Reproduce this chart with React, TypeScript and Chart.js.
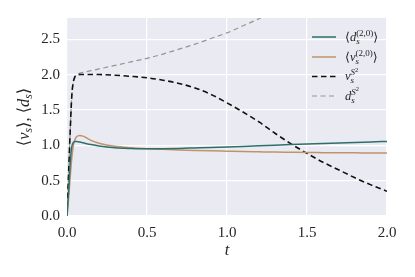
import React, { useEffect, useRef } from 'react';
import { Chart, registerables } from 'chart.js';
Chart.register(...registerables);

// time samples
const T = [0, 0.01, 0.02, 0.03, 0.04, 0.05, 0.06, 0.08, 0.1, 0.15, 0.2, 0.3, 0.4, 0.5, 0.6, 0.7, 0.8, 0.9, 1.0, 1.1, 1.2, 1.3, 1.4, 1.5, 1.6, 1.7, 1.8, 1.9, 2.0];
// <d_s^(2,0)>
const dAvg = [0, 0.35, 0.75, 0.98, 1.04, 1.055, 1.053, 1.045, 1.035, 1.01, 0.99, 0.965, 0.955, 0.95, 0.952, 0.956, 0.962, 0.968, 0.975, 0.983, 0.992, 1.001, 1.01, 1.018, 1.025, 1.033, 1.04, 1.048, 1.055];
// <v_s^(2,0)>
const vAvg = [0, 0.25, 0.55, 0.82, 1.0, 1.08, 1.12, 1.14, 1.13, 1.07, 1.03, 0.985, 0.965, 0.952, 0.943, 0.935, 0.928, 0.922, 0.917, 0.912, 0.908, 0.904, 0.901, 0.898, 0.896, 0.894, 0.893, 0.891, 0.89];
// v_s^{S^2}
const vS2 = [0, 0.6, 1.2, 1.7, 1.9, 1.97, 1.99, 2.0, 2.0, 2.0, 2.0, 1.99, 1.975, 1.955, 1.92, 1.875, 1.81, 1.72, 1.6, 1.47, 1.33, 1.17, 1.02, 0.885, 0.76, 0.65, 0.54, 0.44, 0.35];
// d_s^{S^2}
const dS2 = [0, 0.6, 1.2, 1.7, 1.9, 1.97, 2.0, 2.02, 2.03, 2.055, 2.08, 2.13, 2.18, 2.23, 2.29, 2.36, 2.43, 2.51, 2.59, 2.69, 2.79, 2.9, 3.02, 3.15, 3.28, 3.42, 3.57, 3.72, 3.88];

const xTicks = [0, 0.5, 1.0, 1.5, 2.0];
const yTicks = [0, 0.5, 1.0, 1.5, 2.0, 2.5];

const SERIF = '"Liberation Serif", "DejaVu Serif", serif';
const TXT = '#262626';

type Run = { t: string; s: number; it?: boolean; dy?: number };
type Stack = { sup: Run[]; sub: Run[] };
type Item = Run | Stack;

function fontOf(r: Run) {
  return `${r.it ? 'italic ' : ''}${r.s}px ${SERIF}`;
}

function drawItems(ctx: CanvasRenderingContext2D, items: Item[], x: number, y: number, draw: boolean): number {
  let cx = x;
  for (const it of items) {
    if ((it as Stack).sup) {
      const st = it as Stack;
      const w1 = drawItems(ctx, st.sup, cx, y, draw);
      const w2 = drawItems(ctx, st.sub, cx, y, draw);
      cx += Math.max(w1, w2);
    } else {
      const r = it as Run;
      ctx.font = fontOf(r);
      if (draw) ctx.fillText(r.t, cx, y + (r.dy || 0));
      cx += ctx.measureText(r.t).width;
    }
  }
  return cx - x;
}

const GREEN = '#2f6f6a';
const TAN = '#c0946a';
const BLACK = '#111111';
const GRAY = '#959595';
const BLACK_DASH = [5.5, 3.5];
const GRAY_DASH = [5, 3.5];

const legendItems: { color: string; dash: number[]; width: number; label: Item[] }[] = [
  {
    color: GREEN, dash: [], width: 1.5,
    label: [{ t: '⟨', s: 12.5 }, { t: 'd', s: 12.5, it: true }, { sup: [{ t: '(2,0)', s: 9, dy: -5 }], sub: [{ t: 's', s: 9, it: true, dy: 3 }] }, { t: '⟩', s: 12.5 }],
  },
  {
    color: TAN, dash: [], width: 1.5,
    label: [{ t: '⟨', s: 12.5 }, { t: 'v', s: 12.5, it: true }, { sup: [{ t: '(2,0)', s: 9, dy: -5 }], sub: [{ t: 's', s: 9, it: true, dy: 3 }] }, { t: '⟩', s: 12.5 }],
  },
  {
    color: BLACK, dash: BLACK_DASH, width: 1.6,
    label: [{ t: 'v', s: 12.5, it: true }, { sup: [{ t: 'S', s: 9, it: true, dy: -5 }, { t: '2', s: 6.5, dy: -8.5 }], sub: [{ t: 's', s: 9, it: true, dy: 3 }] }],
  },
  {
    color: GRAY, dash: GRAY_DASH, width: 1.2,
    label: [{ t: 'd', s: 12.5, it: true }, { sup: [{ t: 'S', s: 9, it: true, dy: -5 }, { t: '2', s: 6.5, dy: -8.5 }], sub: [{ t: 's', s: 9, it: true, dy: 3 }] }],
  },
];

const yTitle: Item[] = [
  { t: '⟨', s: 16.5 }, { t: 'v', s: 16.5, it: true }, { t: 's', s: 11.5, it: true, dy: 3 }, { t: '⟩', s: 16.5 },
  { t: ', ', s: 16.5 },
  { t: '⟨', s: 16.5 }, { t: 'd', s: 16.5, it: true }, { t: 's', s: 11.5, it: true, dy: 3 }, { t: '⟩', s: 16.5 },
];

export default function App() {
  const ref = useRef<HTMLCanvasElement>(null);
  useEffect(() => {
    document.body.style.margin = '0';
    const canvas = ref.current!;
    const pts = (ys: number[]) => T.map((t, i) => ({ x: t, y: ys[i] }));

    const bgPlugin = {
      id: 'bg',
      beforeDraw(chart: any) {
        const { ctx, chartArea: a } = chart;
        ctx.save();
        ctx.fillStyle = '#EAEAF2';
        ctx.fillRect(a.left, a.top, a.right - a.left, a.bottom - a.top);
        ctx.restore();
      },
    };

    const textPlugin = {
      id: 'txt',
      afterDraw(chart: any) {
        const ctx: CanvasRenderingContext2D = chart.ctx;
        const a = chart.chartArea;
        ctx.save();
        ctx.fillStyle = TXT;
        ctx.textBaseline = 'alphabetic';
        ctx.textAlign = 'left';
        // legend
        const rows = [37, 57, 76.5, 96];
        legendItems.forEach((li, i) => {
          const y = rows[i];
          ctx.save();
          ctx.strokeStyle = li.color;
          ctx.lineWidth = li.width;
          ctx.setLineDash(li.dash);
          ctx.beginPath();
          ctx.moveTo(312, y);
          ctx.lineTo(336, y);
          ctx.stroke();
          ctx.restore();
          ctx.fillStyle = TXT;
          drawItems(ctx, li.label, 345, y + 3.5, true);
        });
        // x title
        const xt: Item[] = [{ t: 't', s: 16.5, it: true }];
        const wx = drawItems(ctx, xt, 0, 0, false);
        drawItems(ctx, xt, (a.left + a.right) / 2 - wx / 2, 255, true);
        // y title
        const wy = drawItems(ctx, yTitle, 0, 0, false);
        ctx.translate(29, (a.top + a.bottom) / 2);
        ctx.rotate(-Math.PI / 2);
        drawItems(ctx, yTitle, -wy / 2, 0, true);
        ctx.restore();
      },
    };

    const chart = new Chart(canvas, {
      type: 'line',
      data: {
        datasets: [
          { label: 'd_s^(2,0)', data: pts(dAvg), borderColor: GREEN, borderWidth: 1.5, pointRadius: 0, cubicInterpolationMode: 'monotone' },
          { label: 'v_s^(2,0)', data: pts(vAvg), borderColor: TAN, borderWidth: 1.5, pointRadius: 0, cubicInterpolationMode: 'monotone' },
          { label: 'v_s^S2', data: pts(vS2), borderColor: BLACK, borderWidth: 1.6, borderDash: BLACK_DASH, pointRadius: 0, cubicInterpolationMode: 'monotone' },
          { label: 'd_s^S2', data: pts(dS2), borderColor: GRAY, borderWidth: 1.2, borderDash: GRAY_DASH, pointRadius: 0, cubicInterpolationMode: 'monotone' },
        ],
      } as any,
      options: {
        animation: false,
        responsive: false,
        layout: { padding: { top: 18, right: 28, left: 0, bottom: 0 } },
        plugins: { legend: { display: false }, tooltip: { enabled: false } },
        scales: {
          x: {
            type: 'linear', min: 0, max: 2,
            afterBuildTicks: (s: any) => { s.ticks = xTicks.map((v) => ({ value: v })); },
            afterFit: (s: any) => { s.height = 61; },
            grid: { color: '#ffffff', lineWidth: 1.2, drawTicks: false },
            border: { display: false },
            ticks: { padding: 8, color: TXT, font: { family: SERIF, size: 15 }, maxRotation: 0, callback: (v: any) => Number(v).toFixed(1) },
          },
          y: {
            type: 'linear', min: 0, max: 2.8,
            afterBuildTicks: (s: any) => { s.ticks = yTicks.map((v) => ({ value: v })); },
            afterFit: (s: any) => { s.width = 67; },
            grid: { color: '#ffffff', lineWidth: 1.2, drawTicks: false },
            border: { display: false },
            ticks: { padding: 7, color: TXT, font: { family: SERIF, size: 15 }, callback: (v: any) => Number(v).toFixed(1) },
          },
        },
      } as any,
      plugins: [bgPlugin, textPlugin],
    });
    return () => chart.destroy();
  }, []);
  return <canvas ref={ref} width={415} height={277} style={{ display: 'block' }} />;
}
